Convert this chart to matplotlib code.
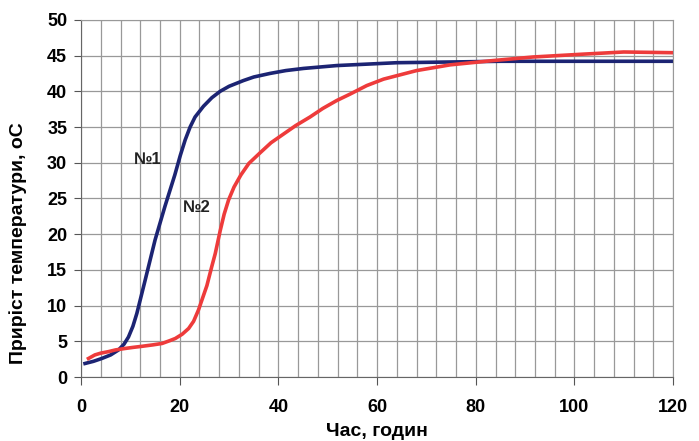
import matplotlib.pyplot as plt
import numpy as np

plt.rcParams['font.family'] = ['Liberation Sans', 'DejaVu Sans']
plt.rcParams['font.weight'] = 'bold'

# крива №1
x1 = [0.8, 2.5, 4.2, 6, 7.6, 8.7, 9.6, 10.5, 11.3, 13, 15, 17, 19, 20.1, 21.1, 22.1, 23.1, 24.8, 26.5, 28.2, 30,
      32.9, 35, 38.3, 41.5, 45.1, 51.8, 57.9, 64, 74.8, 85, 100, 120]
y1 = [1.9, 2.2, 2.6, 3.1, 3.8, 4.6, 5.6, 7.1, 8.9, 13.6, 19.2, 23.9, 28.3, 31, 33.2, 35, 36.4, 37.9, 39.1, 40.0, 40.7,
      41.5, 42.0, 42.5, 42.9, 43.2, 43.6, 43.8, 44.0, 44.1, 44.2, 44.2, 44.2]

# крива №2
x2 = [1.5, 2.8, 4, 5.5, 7, 8.9, 10.5, 12.3, 14.5, 16.4, 18, 19.1, 20.5, 21.8, 22.8, 23.8, 24.8, 25.5,
      26.5, 27.2, 28.2, 29, 29.9, 31, 32.4, 34, 36.3, 38.5, 41, 43.5, 46.4, 49, 51.8, 54.5, 57.9, 61.3,
      68, 74.8, 83.5, 91.6, 101.8, 110, 120]
y2 = [2.6, 3.1, 3.35, 3.55, 3.8, 4.0, 4.15, 4.3, 4.5, 4.7, 5.1, 5.4, 6.0, 6.8, 7.8, 9.4, 11.4, 12.8,
      15.5, 17.3, 20.5, 22.8, 24.8, 26.6, 28.3, 29.9, 31.4, 32.8, 34.0, 35.2, 36.4, 37.6, 38.7, 39.6, 40.8, 41.7,
      42.9, 43.7, 44.3, 44.8, 45.2, 45.5, 45.4]

fig = plt.figure(figsize=(6.99, 4.41), dpi=100)
ax = fig.add_axes([0.116, 0.145, 0.847, 0.81])

ax.plot(x1, y1, color='#1c2473', lw=2.6, solid_joinstyle='round')
ax.plot(x2, y2, color='#ee3b3b', lw=2.6, solid_joinstyle='round')

ax.set_xlim(0, 120)
ax.set_ylim(0, 50)
ax.set_xticks(np.arange(0, 121, 20))
ax.set_xticks(np.arange(0, 121, 4), minor=True)
ax.set_yticks(np.arange(0, 51, 5))
ax.grid(True, which='both', color='#999999', lw=0.9)
ax.tick_params(axis='x', which='minor', length=0)
ax.tick_params(axis='x', which='major', length=6, color='#555555', labelsize=13, pad=10)
ax.tick_params(axis='y', length=5, color='#555555', labelsize=13, pad=5)
for s in ['top', 'right']:
    ax.spines[s].set_color('#999999')
for s in ['left', 'bottom']:
    ax.spines[s].set_color('#666666')

ax.text(13.6, 30.4, '№1', fontsize=12, fontweight='bold', ha='center', va='center', color='#222222')
ax.text(23.5, 23.7, '№2', fontsize=12, fontweight='bold', ha='center', va='center', color='#222222')

ax.set_xlabel('Час, годин', fontsize=14, fontweight='bold')
ax.set_ylabel('Приріст температури, оС', fontsize=14, fontweight='bold')
ax.xaxis.set_label_coords(0.5, -0.128)
ax.yaxis.set_label_coords(-0.092, 0.375)

fig.savefig('out.png', dpi=100)
